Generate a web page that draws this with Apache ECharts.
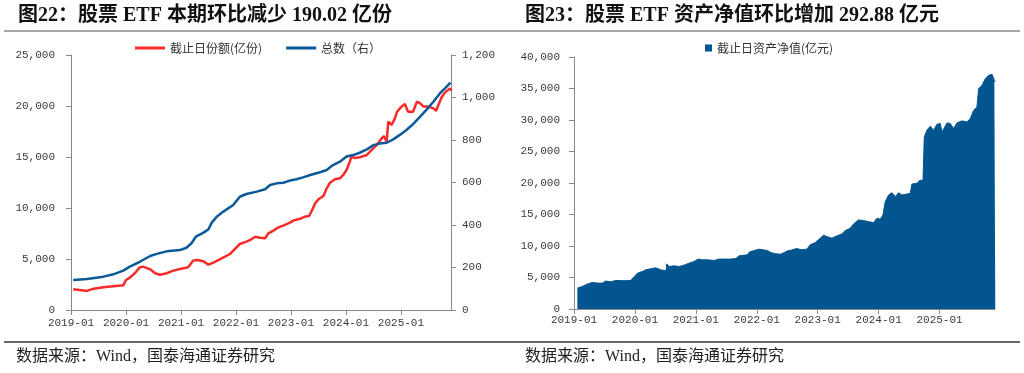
<!DOCTYPE html>
<html><head><meta charset="utf-8">
<script src="https://cdn.jsdelivr.net/npm/echarts@6/dist/echarts.min.js"></script>
<style>html,body{margin:0;padding:0;background:#fff}#c{width:1024px;height:373px}</style>
</head><body><div id="c"></div>
<script>
// ---- Data (x = decimal year) ----
const shareDates = [2019.04,2019.16,2019.29,2019.41,2019.59,2019.77,2019.95,2020.00,2020.07,2020.16,2020.25,2020.31,2020.44,2020.53,2020.62,2020.74,2020.86,2021.04,2021.13,2021.22,2021.29,2021.41,2021.50,2021.59,2021.74,2021.89,2021.95,2022.07,2022.19,2022.28,2022.35,2022.44,2022.53,2022.59,2022.68,2022.77,2022.86,2022.98,2023.04,2023.13,2023.19,2023.25,2023.33,2023.38,2023.44,2023.50,2023.59,2023.65,2023.71,2023.80,2023.89,2023.95,2024.01,2024.07,2024.10,2024.16,2024.25,2024.38,2024.47,2024.56,2024.65,2024.69,2024.74,2024.77,2024.83,2024.89,2024.93,2025.01,2025.07,2025.13,2025.22,2025.29,2025.35,2025.41,2025.50,2025.59,2025.64,2025.68,2025.74,2025.80,2025.83,2025.89,2025.92];
const shareValues = [2030,1960,1870,2090,2220,2320,2420,2940,3170,3600,4180,4250,3990,3600,3460,3600,3860,4090,4180,4840,4900,4770,4440,4640,5070,5490,5820,6470,6700,6930,7190,7090,7030,7520,7780,8100,8270,8560,8760,8890,8990,9150,9220,9740,10460,10850,11180,11930,12480,12810,12910,13240,13730,14540,15030,14900,14970,15200,15690,16180,16830,17060,16500,18460,18140,18790,19440,19940,20200,19440,19440,20430,20260,19940,19940,19770,19540,20100,20850,21310,21240,21730,21500];
const countDates = [2019.04,2019.29,2019.59,2019.77,2019.95,2020.07,2020.25,2020.44,2020.56,2020.74,2020.98,2021.10,2021.19,2021.27,2021.41,2021.50,2021.56,2021.65,2021.77,2021.95,2022.07,2022.19,2022.38,2022.53,2022.62,2022.74,2022.86,2022.98,2023.10,2023.22,2023.35,2023.53,2023.65,2023.74,2023.89,2024.01,2024.13,2024.25,2024.38,2024.50,2024.62,2024.74,2024.86,2024.98,2025.10,2025.22,2025.35,2025.47,2025.59,2025.71,2025.80,2025.90];
const countValues = [141,146,157,168,185,204,227,254,264,276,282,293,314,345,364,380,411,439,463,494,533,546,557,568,588,596,599,609,615,624,635,648,659,678,698,722,729,740,756,776,784,787,803,824,847,875,910,944,980,1020,1043,1070];
const navDates = [2019.055,2019.137,2019.219,2019.301,2019.383,2019.465,2019.520,2019.602,2019.685,2019.821,2019.931,2019.975,2020.041,2020.123,2020.177,2020.260,2020.342,2020.424,2020.479,2020.515,2020.522,2020.561,2020.643,2020.725,2020.807,2020.889,2020.972,2021.037,2021.108,2021.191,2021.300,2021.382,2021.464,2021.574,2021.656,2021.711,2021.848,2021.875,2021.957,2022.039,2022.060,2022.176,2022.231,2022.313,2022.395,2022.450,2022.505,2022.548,2022.614,2022.658,2022.740,2022.822,2022.876,2022.958,2023.041,2023.095,2023.151,2023.233,2023.315,2023.397,2023.451,2023.534,2023.588,2023.670,2023.752,2023.834,2023.916,2023.972,2024.026,2024.071,2024.108,2024.163,2024.218,2024.273,2024.327,2024.383,2024.465,2024.519,2024.547,2024.629,2024.683,2024.728,2024.749,2024.793,2024.848,2024.902,2024.958,2025.012,2025.040,2025.122,2025.176,2025.230,2025.286,2025.368,2025.450,2025.505,2025.559,2025.614,2025.641,2025.697,2025.751,2025.806,2025.861,2025.899,2025.915];
const navValues = [3320,3580,3960,4220,4110,4110,4430,4320,4530,4480,4530,5010,5690,5960,6220,6380,6540,6220,6120,6150,7170,6750,6850,6750,6960,7280,7540,7920,7810,7810,7700,7920,7920,7920,8020,8440,8600,9020,9280,9500,9650,9280,8960,8760,8710,8960,9230,9280,9500,9590,9390,9500,10180,10540,11240,11710,11490,11240,11600,11920,12440,12820,13500,14140,14030,13870,13710,14410,14250,14930,17030,18090,18460,17830,18460,18090,18250,18360,19840,19950,20470,20360,27320,28380,29020,28380,29330,29440,28110,29540,29440,28650,29540,29860,29700,30240,31550,32070,34980,35510,36570,37090,37250,36300,36030];
const xTickLabels = ['2019-01','2020-01','2021-01','2022-01','2023-01','2024-01','2025-01'];
const seriesNames = ['截止日份额(亿份)','总数（右）','截止日资产净值(亿元)'];
const titles = ['图22：股票 ETF 本期环比减少 190.02 亿份','图23：股票 ETF 资产净值环比增加 292.88 亿元'];
const sourceText = '数据来源：Wind，国泰海通证券研究';

// ---- Chart ----
const pair = (xs, ys) => xs.map((x, i) => [x, ys[i]]);
const fmtThousands = v => Number(v).toLocaleString('en-US');
const xFmt = v => (Math.abs(v - Math.round(v)) < 1e-6 && xTickLabels[Math.round(v) - 2019]) || '';
const axisColor = '#8a8a8a';
const labelStyle = { color: '#3a3a3a', fontFamily: 'Liberation Mono', fontSize: 11 };
const xAxisBase = {
  type: 'value', min: 2019, max: 2025.91, interval: 1,
  splitLine: { show: false },
  axisLine: { lineStyle: { color: axisColor } },
  axisTick: { length: 5, lineStyle: { color: axisColor } },
  axisLabel: Object.assign({ formatter: xFmt, margin: 8, showMaxLabel: false }, labelStyle)
};
const yAxisBase = {
  type: 'value',
  splitLine: { show: false },
  axisLine: { show: true, lineStyle: { color: axisColor } },
  axisTick: { show: true, length: 5, lineStyle: { color: axisColor } },
};
const chart = echarts.init(document.getElementById('c'), null, { renderer: 'canvas' });
const titleFont = 'bold 20px "Liberation Serif", "Noto Sans CJK SC"';
const footFont = '16px "Liberation Serif", "Noto Sans CJK SC"';
chart.setOption({
  animation: false,
  backgroundColor: '#fff',
  grid: [
    { left: 71, top: 55, width: 380, height: 255 },
    { left: 574, top: 57, width: 421, height: 252 }
  ],
  legend: [
    { left: 135, top: 42, padding: 0, itemGap: 24, itemWidth: 30, itemHeight: 3, icon: 'rect',
      data: [seriesNames[0], seriesNames[1]],
      textStyle: { fontFamily: 'Noto Sans CJK SC', fontSize: 12, color: '#333' } },
    { left: 705, top: 42, padding: 0, itemWidth: 7, itemHeight: 7, icon: 'rect',
      data: [seriesNames[2]],
      textStyle: { fontFamily: 'Noto Sans CJK SC', fontSize: 12, color: '#333' } }
  ],
  xAxis: [
    Object.assign({}, xAxisBase, { gridIndex: 0 }),
    Object.assign({}, xAxisBase, { gridIndex: 1, axisLabel: Object.assign({}, xAxisBase.axisLabel, { margin: 6 }) })
  ],
  yAxis: [
    Object.assign({}, yAxisBase, { gridIndex: 0, min: 0, max: 25000, interval: 5000,
      axisLabel: Object.assign({ formatter: fmtThousands, margin: 16 }, labelStyle) }),
    Object.assign({}, yAxisBase, { gridIndex: 0, position: 'right', min: 0, max: 1200, interval: 200,
      axisLabel: Object.assign({ formatter: fmtThousands, margin: 11 }, labelStyle) }),
    Object.assign({}, yAxisBase, { gridIndex: 1, min: 0, max: 40000, interval: 5000,
      axisLabel: Object.assign({ formatter: fmtThousands, margin: 14 }, labelStyle) })
  ],
  series: [
    { name: seriesNames[0], type: 'line', xAxisIndex: 0, yAxisIndex: 0, data: pair(shareDates, shareValues),
      showSymbol: false, lineStyle: { color: '#f92a2a', width: 2.5 }, itemStyle: { color: '#f92a2a' } },
    { name: seriesNames[1], type: 'line', xAxisIndex: 0, yAxisIndex: 1, data: pair(countDates, countValues),
      showSymbol: false, lineStyle: { color: '#0b5a97', width: 2.5 }, itemStyle: { color: '#0b5a97' } },
    { name: seriesNames[2], type: 'line', xAxisIndex: 1, yAxisIndex: 2, data: pair(navDates, navValues),
      showSymbol: false, lineStyle: { color: '#03558f', width: 1 }, itemStyle: { color: '#03558f' },
      areaStyle: { color: '#03558f', opacity: 1 } }
  ],
  graphic: [
    { type: 'text', left: 18, top: 6, style: { text: titles[0], font: titleFont, fill: '#111' } },
    { type: 'text', left: 525, top: 6, style: { text: titles[1], font: titleFont, fill: '#111' } },
    { type: 'line', shape: { x1: 4, y1: 31, x2: 1020, y2: 31 }, style: { stroke: '#8a8a8a', lineWidth: 1.5 } },
    { type: 'line', shape: { x1: 4, y1: 342, x2: 1020, y2: 342 }, style: { stroke: '#333', lineWidth: 1.5 } },
    { type: 'text', left: 16, top: 349, style: { text: sourceText, font: footFont, fill: '#222' } },
    { type: 'text', left: 525, top: 349, style: { text: sourceText, font: footFont, fill: '#222' } }
  ]
});
</script></body></html>
